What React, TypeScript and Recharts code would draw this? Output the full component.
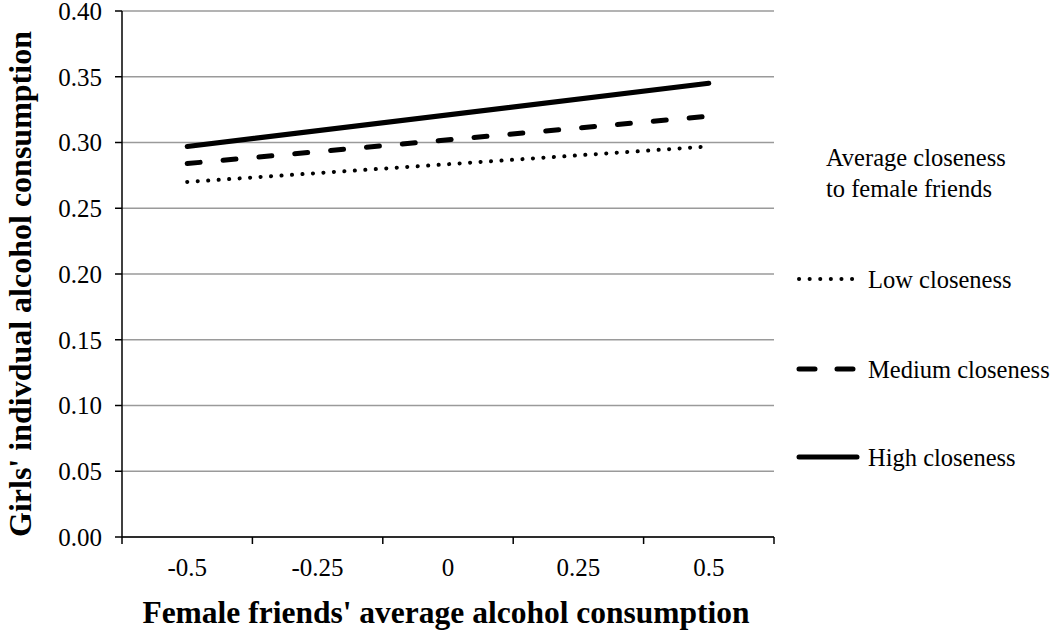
import React from 'react';
import { LineChart, Line, XAxis, YAxis, CartesianGrid, Legend } from 'recharts';

const xCategories = [-0.5, -0.25, 0, 0.25, 0.5];
const xTickLabels = ['-0.5', '-0.25', '0', '0.25', '0.5'];
const xBoundaries = [-0.625, -0.375, -0.125, 0.125, 0.375, 0.625];
const yTicks = [0, 0.05, 0.1, 0.15, 0.2, 0.25, 0.3, 0.35, 0.4];

const endpointsX = [-0.5, 0.5];
const lowValues = [0.270, 0.297];
const mediumValues = [0.284, 0.320];
const highValues = [0.297, 0.345];

const seriesNames = ['Low closeness', 'Medium closeness', 'High closeness'];
const legendTitle = ['Average closeness', 'to female friends'];

const data = endpointsX.map((x, i) => ({
  x,
  low: lowValues[i],
  medium: mediumValues[i],
  high: highValues[i],
}));

const allXTicks = [...xBoundaries, ...xCategories].sort((a, b) => a - b);

const FONT = '"Liberation Serif", "Times New Roman", serif';

const lineStyles = [
  { key: 'low', dash: '0.1 10.4', width: 4 },
  { key: 'medium', dash: '13 23', width: 5 },
  { key: 'high', dash: undefined as string | undefined, width: 5 },
];

const TICK_SIZE = 7;
const TICK_MARGIN = 8;

const XTick = (props: any) => {
  const { x, y, payload } = props;
  const v = payload.value;
  const idx = xCategories.indexOf(v);
  if (idx < 0) {
    const y0 = y - TICK_SIZE - TICK_MARGIN;
    return <line x1={x} y1={y0} x2={x} y2={y0 + TICK_SIZE} stroke="#000" strokeWidth={1.5} />;
  }
  return (
    <text x={x} y={y + 15} textAnchor="middle" dominantBaseline="central" fontFamily={FONT} fontSize={25} fill="#000">
      {xTickLabels[idx]}
    </text>
  );
};

const legendRowY = [139, 229, 317];

const LegendContent = () => (
  <svg width={256} height={340} style={{ display: 'block' }}>
    <text x={32} y={17} dominantBaseline="central" fontFamily={FONT} fontSize={24.5} fill="#000">
      {legendTitle[0]}
    </text>
    <text x={32} y={48} dominantBaseline="central" fontFamily={FONT} fontSize={24.5} fill="#000">
      {legendTitle[1]}
    </text>
    {seriesNames.map((name, i) => (
      <g key={name}>
        <line
          x1={5}
          y1={legendRowY[i]}
          x2={63}
          y2={legendRowY[i]}
          stroke="#000"
          strokeWidth={lineStyles[i].width}
          strokeDasharray={i === 0 ? '0.1 10.5' : i === 1 ? '16 22' : undefined}
          strokeLinecap="round"
        />
        <text x={74} y={legendRowY[i]} dominantBaseline="central" fontFamily={FONT} fontSize={24.5} fill="#000">
          {name}
        </text>
      </g>
    ))}
  </svg>
);

export default function App() {
  return (
    <div style={{ position: 'absolute', left: 0, top: 0, width: 1050, height: 631, background: '#fff' }}>
      <LineChart
        width={1050}
        height={631}
        data={data}
        margin={{ top: 11, right: 276, bottom: 0, left: 0 }}
        style={{ fontFamily: FONT, overflow: 'visible' }}
      >
        <CartesianGrid horizontal vertical={false} stroke="#9a9a9a" strokeWidth={1.5} />
        <XAxis
          dataKey="x"
          type="number"
          domain={[-0.625, 0.625]}
          ticks={allXTicks}
          interval={0}
          height={94}
          axisLine={{ stroke: '#000', strokeWidth: 1.5 }}
          tickLine={false}
          tickSize={TICK_SIZE}
          tickMargin={TICK_MARGIN}
          tick={<XTick />}
          allowDataOverflow
          label={{
            content: (props: any) => {
              const vb = props.viewBox || {};
              return (
                <text
                  x={vb.x + vb.width / 2 - 2}
                  y={vb.y + 86}
                  textAnchor="middle"
                  fontFamily={FONT}
                  fontWeight="bold"
                  fontSize={31.5}
                  fill="#000"
                >
                  Female friends' average alcohol consumption
                </text>
              );
            },
          }}
        />
        <YAxis
          type="number"
          domain={[0, 0.4]}
          ticks={yTicks}
          interval={0}
          width={122}
          axisLine={{ stroke: '#000', strokeWidth: 1.5 }}
          tickLine={{ stroke: '#000', strokeWidth: 1.5 }}
          tickSize={7}
          tickMargin={13}
          tickFormatter={(v: number) => v.toFixed(2)}
          tick={{ fill: '#000', fontSize: 25, fontFamily: FONT }}
          label={{
            content: (props: any) => {
              const vb = props.viewBox || {};
              const cx = vb.x + 20;
              const cy = vb.y + vb.height / 2 + 10;
              return (
                <text
                  x={cx}
                  y={cy}
                  transform={`rotate(-90, ${cx}, ${cy})`}
                  textAnchor="middle"
                  dominantBaseline="central"
                  fontFamily={FONT}
                  fontWeight="bold"
                  fontSize={32}
                  fill="#000"
                >
                  Girls' indivdual alcohol consumption
                </text>
              );
            },
          }}
        />
        {lineStyles.map((s) => (
          <Line
            key={s.key}
            dataKey={s.key}
            type="linear"
            stroke="#000"
            strokeWidth={s.width}
            strokeDasharray={s.dash}
            strokeLinecap="round"
            dot={false}
            activeDot={false}
            isAnimationActive={false}
          />
        ))}
        <Legend
          layout="vertical"
          align="center"
          verticalAlign="middle"
          content={<LegendContent />}
          wrapperStyle={{ position: 'absolute', left: 794, top: 140, width: 256, height: 340 }}
        />
      </LineChart>
    </div>
  );
}
